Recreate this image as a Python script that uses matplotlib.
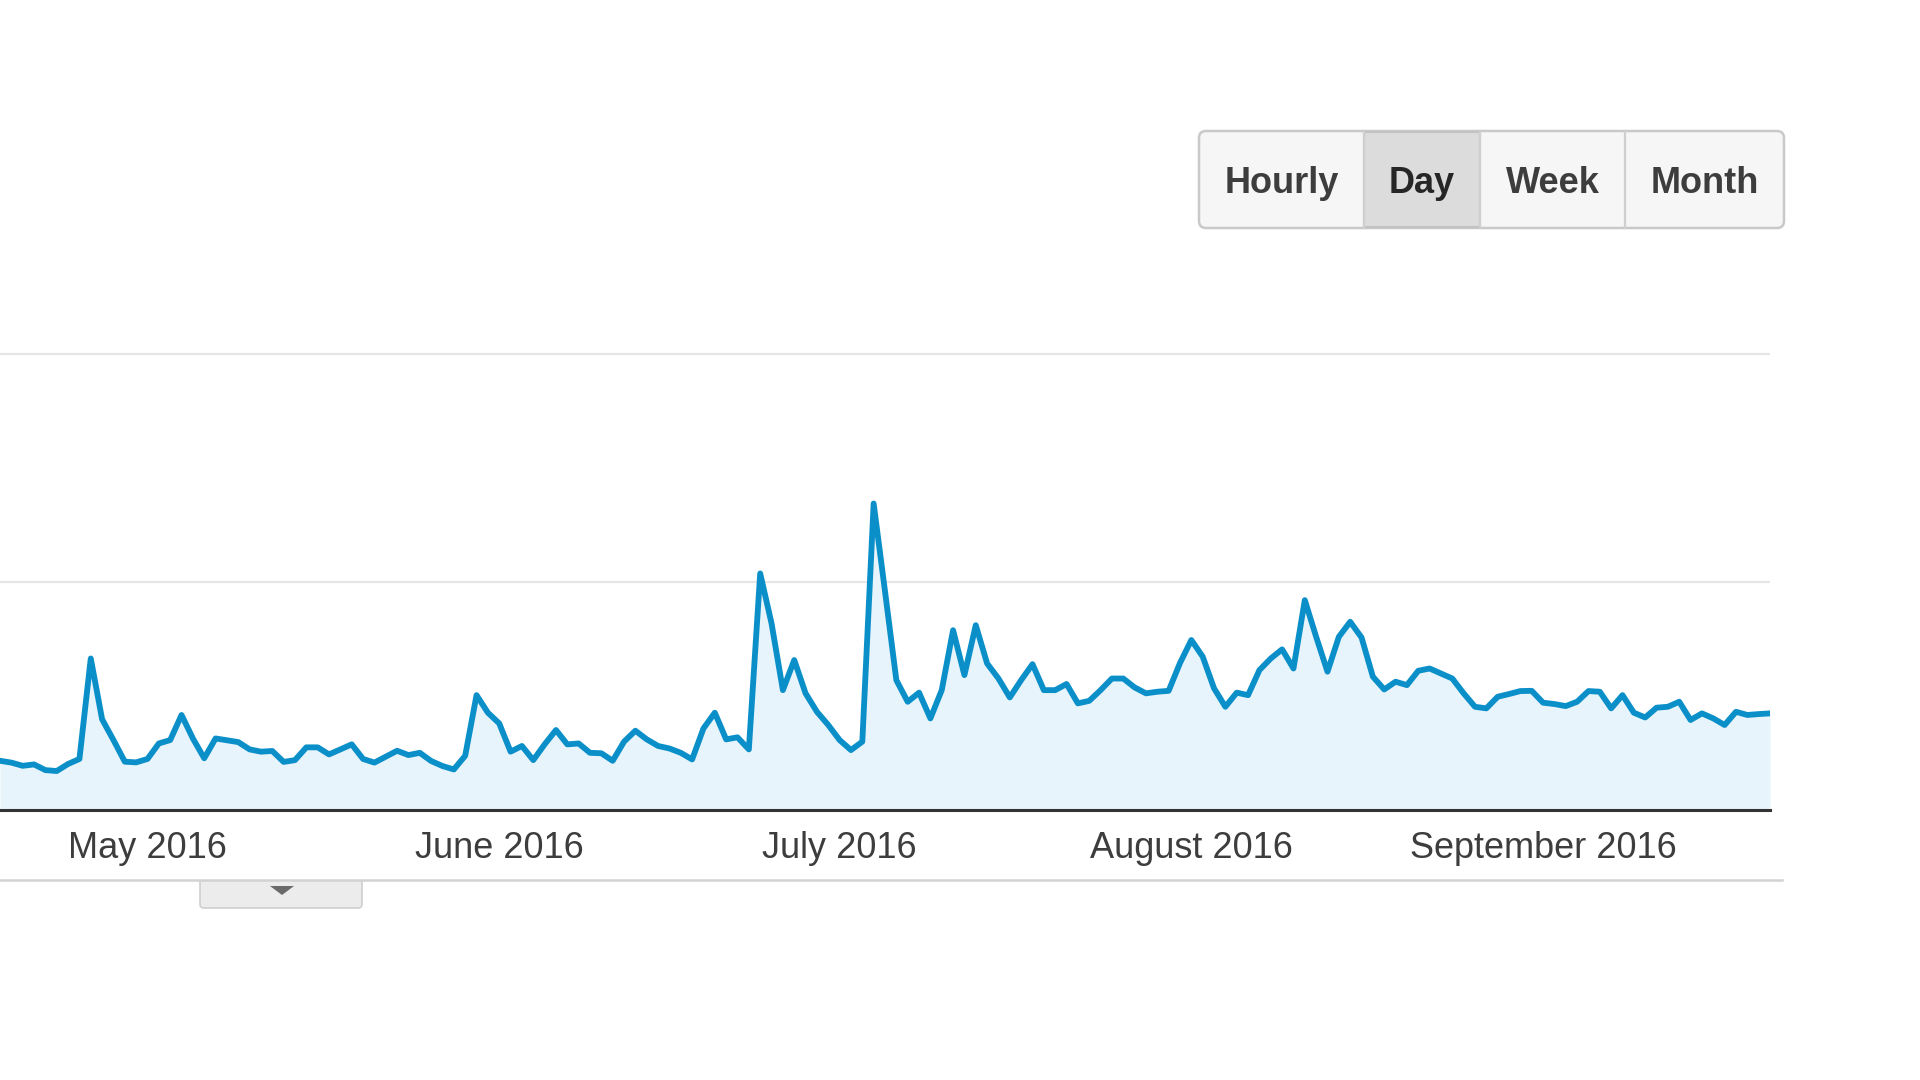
import matplotlib
matplotlib.use("Agg")
import pandas as pd
from matplotlib import pyplot as plt
from matplotlib.patches import FancyBboxPatch, Rectangle, Polygon

plt.rcParams["font.family"] = ["Liberation Sans", "DejaVu Sans"]

# daily values (gridlines sit at 100 and 200)
start_date = "2016-04-18"
daily_views = [
    21.6, 20.8, 19.4, 20.0, 17.5, 17.1, 20.2, 22.4, 66.5, 39.8, 30.7, 21.2, 20.9,
    22.4, 29.2, 30.7, 41.7, 31.4, 22.7, 31.4, 30.6, 29.8, 26.6, 25.6, 25.9, 21.1, 21.9,
    27.5, 27.5, 24.4, 26.6, 28.8, 22.4, 20.8, 23.4, 26.0, 24.1, 25.1, 21.5, 19.3,
    17.8, 23.8, 50.4, 42.7, 38.0, 25.6, 28.1, 21.9, 28.8, 35.1, 28.8, 29.2, 25.1,
    24.9, 21.6, 30.0, 34.8, 31.0, 28.1, 27.0, 25.1, 22.2, 35.8, 42.7, 31.0, 31.9,
    26.6, 103.8, 81.9, 52.6, 65.8, 51.2, 43.1, 37.3, 30.7, 26.3, 30.0, 134.5, 96.0,
    57.0, 47.5, 51.5, 40.2, 52.6, 78.9, 59.2, 81.1, 64.3, 57.7, 49.4, 57.0, 64.0,
    52.6, 52.6, 55.3, 46.8, 47.9, 52.6, 57.7, 57.7, 53.8, 51.2, 51.9, 52.3, 64.5,
    74.6, 67.3, 53.4, 45.3, 51.5, 50.4, 61.4, 66.5, 70.5, 62.1, 92.1, 76.0, 60.7,
    76.0, 82.6, 75.7, 58.5, 52.9, 56.3, 54.8, 61.1, 62.1, 59.9, 57.7, 51.2, 45.3,
    44.6, 49.7, 50.9, 52.2, 52.3, 47.1, 46.5, 45.6, 47.5, 52.2, 51.9, 44.6, 50.4,
    42.7, 40.6, 44.9, 45.3, 47.5, 39.5, 42.4, 40.2, 37.3, 43.1, 41.7, 42.1, 42.4,
]
month_ticks = ["2016-05-01", "2016-06-01", "2016-07-01", "2016-08-01", "2016-09-01"]
month_labels = ["May 2016", "June 2016", "July 2016", "August 2016", "September 2016"]
grid_values = [100, 200]
buttons = ["Hourly", "Day", "Week", "Month"]
active_button = "Day"

LINE = "#0b8fc9"
FILL = "#e7f4fb"
TEXT = "#3d3d3d"

dates = pd.date_range(start_date, periods=len(daily_views), freq="D")

fig = plt.figure(figsize=(19.2, 10.8), dpi=100)
fig.patch.set_facecolor("white")

# pixel-space layer for the page furniture (buttons, scroller)
deco = fig.add_axes([0, 0, 1, 1])
deco.set_xlim(0, 1920)
deco.set_ylim(1080, 0)
deco.axis("off")

ax = fig.add_axes([0, 0.25, 1770 / 1920, 458 / 1080])
ax.fill_between(dates, daily_views, 0, color=FILL, lw=0, zorder=2)
ax.plot(dates, daily_views, color=LINE, lw=4.2, solid_joinstyle="round", zorder=3)
ax.set_xlim(dates[0], dates[-1])
ax.set_ylim(0, 201)
ax.set_yticks(grid_values)
ax.set_yticklabels([])
ax.grid(axis="y", color="#e6e6e6", lw=1.6, zorder=1)
ax.set_xticks(pd.to_datetime(month_ticks))
ax.set_xticklabels(month_labels, fontsize=26, color=TEXT)
ax.tick_params(axis="both", length=0)
ax.tick_params(axis="x", pad=15)
for side in ("top", "left", "right"):
    ax.spines[side].set_visible(False)
ax.spines["bottom"].set_color("#333333")
ax.spines["bottom"].set_linewidth(2.2)
ax.spines["bottom"].set_zorder(4)
ax.set_facecolor("none")

# navigator strip under the axis
deco.add_patch(FancyBboxPatch((200, 868), 162, 40, boxstyle="round,pad=0,rounding_size=4",
                              fc="#ececec", ec="#cfcfcf", lw=1.2))
deco.add_patch(Rectangle((199, 866), 164, 14, fc="white", ec="none"))
deco.plot([0, 1782], [880, 880], color="#d2d2d2", lw=1.8)
deco.add_patch(Polygon([[270, 886], [294, 886], [282, 895]], closed=True, fc="#6a6a6a", ec="none"))

# range buttons
edges = [1199, 1364, 1480, 1625, 1784]
top, bottom = 131, 228
deco.add_patch(FancyBboxPatch((edges[0], top), edges[-1] - edges[0], bottom - top,
                              boxstyle="round,pad=0,rounding_size=7",
                              fc="#f6f6f6", ec="#c9c9c9", lw=1.8, zorder=1))
for i, name in enumerate(buttons):
    x0, x1 = edges[i], edges[i + 1]
    if name == active_button:
        deco.add_patch(Rectangle((x0, top + 1), x1 - x0, bottom - top - 2,
                                 fc="#dcdcdc", ec="#c2c2c2", lw=1.5, zorder=2))
        color = "#262626"
    else:
        color = TEXT
    if i > 0:
        deco.plot([x0, x0], [top, bottom], color="#cfcfcf", lw=1.6, zorder=3)
    deco.text((x0 + x1) / 2, 193, name, ha="center", va="baseline",
              fontsize=26, fontweight="bold", color=color, zorder=4)

fig.savefig("out.png", dpi=100, facecolor="white")
